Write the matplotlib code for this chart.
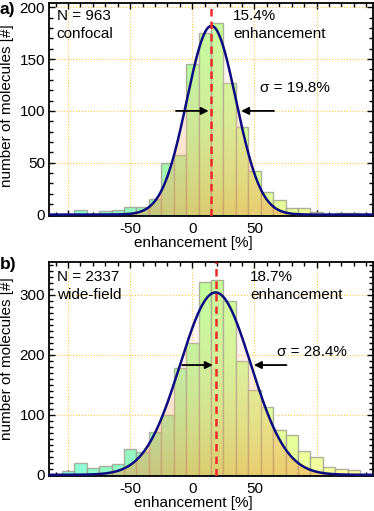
import numpy as np
import matplotlib
matplotlib.use("Agg")
import matplotlib.pyplot as plt
from matplotlib.colors import LinearSegmentedColormap, Normalize
from matplotlib.patches import Polygon
from matplotlib.ticker import MultipleLocator

plt.rcParams['font.family'] = ['Liberation Sans', 'DejaVu Sans']
plt.rcParams['axes.unicode_minus'] = False
FS = 11

# histogram data (bin centres, width 10 %)
centers_a = [-90, -70, -60, -50, -40, -30, -20, -10, 0, 10, 20, 30, 40, 50, 60, 70, 80, 90, 100, 120, 130, 140]
counts_a = [4, 3, 4, 7, 7, 15, 50, 57, 145, 175, 185, 127, 84, 42, 22, 14, 6, 6, 2.5, 2, 2, 1]

centers_b = [-100, -90, -80, -70, -60, -50, -40, -30, -20, -10, 0, 10, 20, 30, 40, 50, 60, 70, 80, 90, 100, 110, 120, 130]
counts_b = [7, 19, 12, 15, 18, 43, 38, 72, 99, 178, 219, 322, 325, 290, 189, 142, 113, 75, 67, 40, 29, 13, 9, 8]

# gaussian fits
mean_a, sigma_a, peak_a = 15.4, 19.8, 182
mean_b, sigma_b, peak_b = 18.7, 28.4, 304

bar_cmap = LinearSegmentedColormap.from_list("bars", [
    (0.0, (0.55, 1.0, 0.85)),
    (0.3, (0.60, 0.95, 0.72)),
    (0.45, (0.74, 0.99, 0.60)),
    (0.65, (0.85, 1.0, 0.60)),
    (1.0, (1.0, 1.0, 0.62))])
xnorm = Normalize(-100, 130)

fig = plt.figure(figsize=(3.74, 5.11), dpi=100)
ax_a = fig.add_axes([0.132, 0.577, 0.864, 0.417])
ax_b = fig.add_axes([0.132, 0.0685, 0.864, 0.419])


def panel(ax, centers, counts, mean, sigma, peak, ylim, ymaj, txt_n, txt_e, txt_s, arr_y, arr_l, arr_r):
    xmin, xmax = -115, 145
    ax.bar(centers, counts, width=10, color=bar_cmap(xnorm(np.array(centers))),
           edgecolor=(0.62, 0.62, 0.55, 0.8), linewidth=1.0, zorder=2)

    xs = np.linspace(xmin, xmax, 600)
    g = peak * np.exp(-(xs - mean) ** 2 / (2 * sigma ** 2))

    # orange gradient under the fit curve
    n = 256
    grad = np.zeros((n, 1, 4))
    t = np.linspace(0, 1, n)  # 0 bottom, 1 top
    grad[:, 0, 0] = 0.96 + 0.04 * t
    grad[:, 0, 1] = 0.62 + 0.26 * t
    grad[:, 0, 2] = 0.28 + 0.55 * t
    grad[:, 0, 3] = 0.52 - 0.44 * t
    verts = np.column_stack([np.r_[xs, xs[::-1]], np.r_[g, np.zeros_like(g)]])
    clip = Polygon(verts, closed=True, transform=ax.transData)
    im = ax.imshow(grad, extent=[xmin, xmax, 0, peak], origin='lower', aspect='auto', zorder=3)
    im.set_clip_path(clip)

    ax.plot(xs, g, color='#0c0c80', lw=1.8, zorder=5)
    ax.axvline(mean, color='#ee2b2b', lw=1.8, dashes=(3, 2), zorder=6)

    ax.annotate('', xy=(mean, arr_y), xytext=(arr_l, arr_y),
                arrowprops=dict(arrowstyle='-|>', color='black', lw=1.3, mutation_scale=11), zorder=7)
    hw = sigma * np.sqrt(2 * np.log(peak / arr_y))
    ax.annotate('', xy=(mean + hw, arr_y), xytext=(arr_r, arr_y),
                arrowprops=dict(arrowstyle='-|>', color='black', lw=1.3, mutation_scale=11), zorder=7)

    ax.set_xlim(xmin, xmax)
    ax.set_ylim(*ylim)
    ax.set_xticks([-100, -50, 0, 50, 100])
    ax.set_xticklabels(['', '-50', '0', '50', ''])
    ax.xaxis.set_minor_locator(MultipleLocator(10))
    ax.yaxis.set_major_locator(MultipleLocator(ymaj))
    ax.yaxis.set_minor_locator(MultipleLocator(10))
    ax.tick_params(which='both', direction='in', top=True, right=True, labelsize=FS, width=1)
    ax.tick_params(which='major', length=4)
    ax.tick_params(which='minor', length=3)
    ax.tick_params(axis='x', pad=4)
    ax.tick_params(axis='y', pad=3)
    ax.grid(True, which='major', color='#ffc64a', ls=':', lw=0.8, zorder=1)
    ax.set_axisbelow(True)
    for s in ax.spines.values():
        s.set_linewidth(1.3)

    ax.text(-109, txt_n[2], txt_n[0] + '\n' + txt_n[1], fontsize=FS, va='top', ha='left',
            linespacing=1.3, zorder=8)
    ax.text(txt_e[1], txt_e[2], txt_e[0] + '\nenhancement', fontsize=FS, va='top', ha='left',
            linespacing=1.3, zorder=8)
    ax.text(txt_s[1], txt_s[2], txt_s[0], fontsize=FS, va='center', ha='left', zorder=8)

    ax.text(0.445, -0.095, 'enhancement [%]', transform=ax.transAxes, fontsize=FS,
            ha='center', va='top')


panel(ax_a, centers_a, counts_a, mean_a, sigma_a, peak_a, (-1.5, 204), 50,
      ('N = 963', 'confocal', 198), ('15.4%', 33, 198), ('σ = 19.8%', 54.5, 122),
      100, -15.4, 68)
panel(ax_b, centers_b, counts_b, mean_b, sigma_b, peak_b, (-2, 355), 100,
      ('N = 2337', 'wide-field', 341), ('18.7%', 46.5, 341), ('σ = 28.4%', 68, 205),
      183, -10.4, 78)

ax_a.set_ylabel('number of molecules [#]', fontsize=FS)
ax_b.set_ylabel('number of molecules [#]', fontsize=FS)
ax_a.yaxis.set_label_coords(-0.108, 0.52)
ax_b.yaxis.set_label_coords(-0.108, 0.547)

fig.text(0.0, 0.996, 'a)', fontsize=12.5, fontweight='bold', ha='left', va='top')
fig.text(0.0, 0.497, 'b)', fontsize=12.5, fontweight='bold', ha='left', va='top')

fig.savefig('out.png', dpi=100)
